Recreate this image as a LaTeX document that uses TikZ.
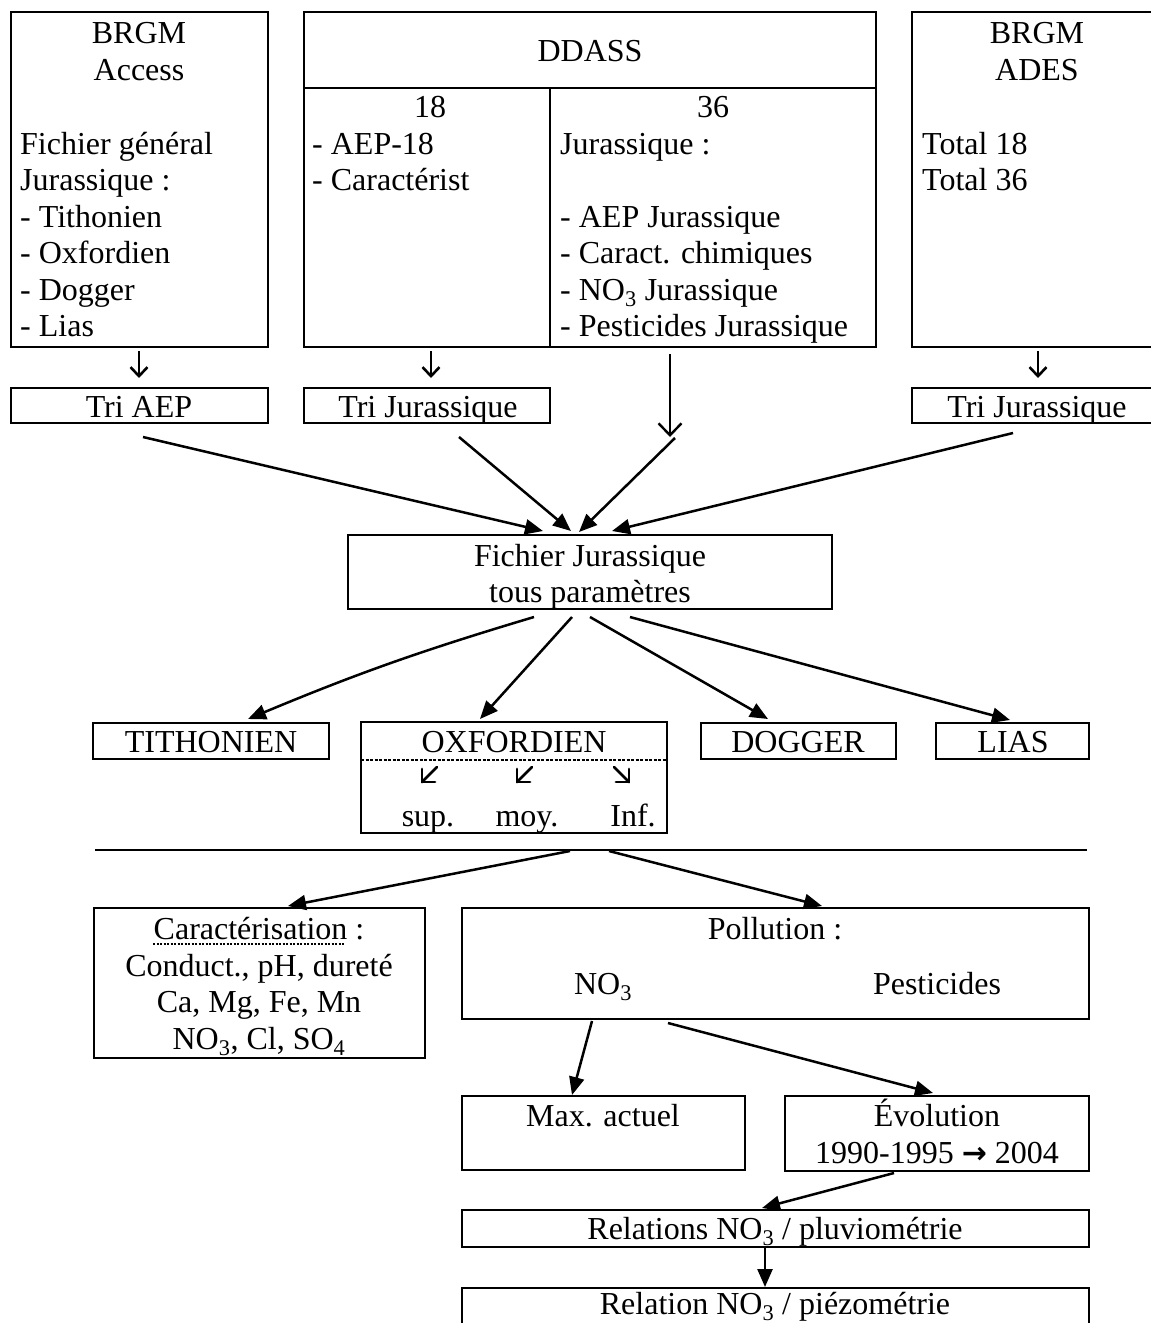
\documentclass[tikz,border=0pt]{standalone}
\usepackage{fontspec}
\setmainfont{Liberation Serif}
\newfontfamily\arrowfont{DejaVu Sans}
\usetikzlibrary{arrows.meta}
\begin{document}
\begin{tikzpicture}[x=1pt,y=-1pt,
  box/.style={draw, line width=1.8pt, inner sep=0pt, outer sep=0pt, anchor=north west},
  t/.style={inner sep=0pt, anchor=base, font=\fontsize{32}{36.7}\selectfont},
  tl/.style={t, anchor=base west},
  arr/.style={line width=2.5pt, -{Triangle[length=18pt,width=15pt]}},
  oarr/.style={line width=2.6pt, -{Straight Barb[length=9pt,width=17pt,line width=2.6pt]}},
  bigoarr/.style={line width=2.4pt, -{Straight Barb[length=12pt,width=23pt,line width=2.4pt]}},
  sep/.style={line width=1.8pt},
  small/.style={line width=2.8pt, line cap=round, line join=round},
]
\useasboundingbox (0,0) rectangle (1151,1323);
\clip (0,0) rectangle (1151,1323);

% ---------- top boxes ----------
\node[box, minimum width=257pt, minimum height=335pt] (bA) at (11,12) {};
\node[box, minimum width=572pt, minimum height=335pt] (bD) at (304,12) {};
\draw[sep] (304,88) -- (876,88);
\draw[sep] (550,88) -- (550,347);
\node[box, minimum width=260pt, minimum height=335pt] (bR) at (912,12) {};

\node[t] (a1) at (139,43) {BRGM};
\node[t] (a2) at (139,80) {Access};
\node[tl] (a3) at (20,154) {Fichier général};
\node[tl] (a4) at (20,190) {Jurassique :};
\node[tl] (a5) at (20,227) {- Tithonien};
\node[tl] (a6) at (20,263) {- Oxfordien};
\node[tl] (a7) at (20,300) {- Dogger};
\node[tl] (a8) at (20,336) {- Lias};

\node[t] (d0) at (590,61) {DDASS};
\node[t] (d1) at (430,117) {18};
\node[tl] (d2) at (312,154) {- AEP-18};
\node[tl] (d3) at (312,190) {- Caractérist};
\node[t] (d4) at (713,117) {36};
\node[tl] (d5) at (560,154) {Jurassique :};
\node[tl] (d6) at (560,227) {- AEP Jurassique};
\node[tl] (d7) at (560,263) {- Caract. chimiques};
\node[tl] (d8) at (560,300) {- NO\textsubscript{3} Jurassique};
\node[tl] (d9) at (560,336) {- Pesticides Jurassique};

\node[t] (r1) at (1037,43) {BRGM};
\node[t] (r2) at (1037,80) {ADES};
\node[tl] (r3) at (922,154) {Total 18};
\node[tl] (r4) at (922,190) {Total 36};

% ---------- tri boxes ----------
\node[box, minimum width=257pt, minimum height=35pt] (tA) at (11,388) {};
\node[box, minimum width=246pt, minimum height=35pt] (tD) at (304,388) {};
\node[box, minimum width=260pt, minimum height=35pt] (tR) at (912,388) {};
\node[t] (tAt) at (139,417) {Tri AEP};
\node[t] (tDt) at (428,417) {Tri Jurassique};
\node[t] (tRt) at (1037,417) {Tri Jurassique};

\coordinate (sA1) at (139,351); \coordinate (eA1) at (139,378);
\coordinate (sD1) at (431,351); \coordinate (eD1) at (431,378);
\coordinate (sR1) at (1038,351); \coordinate (eR1) at (1038,378);
\coordinate (sD2) at (670,354); \coordinate (eD2) at (670,437);
\draw[oarr] (sA1) -- (eA1);
\draw[oarr] (sD1) -- (eD1);
\draw[oarr] (sR1) -- (eR1);
\draw[bigoarr] (sD2) -- (eD2);

% ---------- Fichier Jurassique ----------
\node[box, minimum width=484pt, minimum height=74pt] (fj) at (348,535) {};
\node[t] (fj1) at (590,566) {Fichier Jurassique};
\node[t] (fj2) at (590,602) {tous paramètres};

\coordinate (c1s) at (143,437); \coordinate (c1e) at (543,531);
\coordinate (c2s) at (459,437); \coordinate (c2e) at (571,531);
\coordinate (c3s) at (675,438); \coordinate (c3e) at (579,532);
\coordinate (c4s) at (1013,433); \coordinate (c4e) at (612,531);
\draw[arr] (c1s) -- (c1e);
\draw[arr] (c2s) -- (c2e);
\draw[arr] (c3s) -- (c3e);
\draw[arr] (c4s) -- (c4e);

% ---------- stages ----------
\node[box, minimum width=236pt, minimum height=36pt] (ti) at (93,723) {};
\node[box, minimum width=306pt, minimum height=111pt] (ox) at (361,722) {};
\node[box, minimum width=195pt, minimum height=36pt] (dg) at (701,723) {};
\node[box, minimum width=153pt, minimum height=36pt] (li) at (936,723) {};
\node[t] (tit) at (211,752) {TITHONIEN};
\node[t] (oxt) at (514,752) {OXFORDIEN};
\node[t] (dgt) at (798,752) {DOGGER};
\node[t] (lit) at (1013,752) {LIAS};
\draw[line width=1.3pt, dash pattern=on 3pt off 1.5pt] (361,760) -- (667,760);
\node[t] (ox1) at (428,826) {sup.};
\node[t] (ox2) at (527,826) {moy.};
\node[t] (ox3) at (633,826) {Inf.};
% small glyph arrows
\draw[small] (422,769) -- (422,782) -- (435,782);
\draw[small] (422,782) -- (437,767);
\draw[small] (517,769) -- (517,782) -- (530,782);
\draw[small] (517,782) -- (532,767);
\draw[small] (629,769) -- (629,782) -- (616,782);
\draw[small] (629,782) -- (614,767);

\coordinate (d1s) at (534,617); \coordinate (d1e) at (248,719);
\coordinate (d2s) at (572,617); \coordinate (d2e) at (480,719);
\coordinate (d3s) at (590,617); \coordinate (d3e) at (768,719);
\coordinate (d4s) at (630,617); \coordinate (d4e) at (1010,720);
\draw[arr] (d1s) to[bend right=3] (d1e);
\draw[arr] (d2s) -- (d2e);
\draw[arr] (d3s) -- (d3e);
\draw[arr] (d4s) -- (d4e);

% ---------- separator ----------
\coordinate (hl1) at (95,850); \coordinate (hl2) at (1087,850);
\draw[sep] (hl1) -- (hl2);

% ---------- characterisation / pollution ----------
\node[box, minimum width=331pt, minimum height=150pt] (ca) at (94,908) {};
\node[box, minimum width=627pt, minimum height=111pt] (po) at (462,908) {};
\node[t] (ca1) at (259,939) {Caractérisation :};
\draw[line width=1.2pt, dash pattern=on 2pt off 1.5pt] (153,944) -- (345,944);
\node[t] (ca2) at (259,976) {Conduct., pH, dureté};
\node[t] (ca3) at (259,1012) {Ca, Mg, Fe, Mn};
\node[t] (ca4) at (259,1049) {NO\textsubscript{3}, Cl, SO\textsubscript{4}};
\node[t] (po1) at (775,939) {Pollution :};
\node[t] (po2) at (603,994) {NO\textsubscript{3}};
\node[t] (po3) at (937,994) {Pesticides};

\coordinate (e1s) at (570,851); \coordinate (e1e) at (288,906);
\coordinate (e2s) at (609,851); \coordinate (e2e) at (822,906);
\draw[arr] (e1s) -- (e1e);
\draw[arr] (e2s) -- (e2e);

% ---------- nitrate analysis ----------
\node[box, minimum width=283pt, minimum height=74pt] (mx) at (462,1096) {};
\node[box, minimum width=304pt, minimum height=75pt] (ev) at (785,1096) {};
\node[t] (mxt) at (603,1126) {Max. actuel};
\node[t] (ev1) at (937,1126) {Évolution};
\node[t] (ev2) at (937,1163) {1990-1995 {\arrowfont\bfseries\fontsize{30}{34}\selectfont →} 2004};
\node[box, minimum width=627pt, minimum height=37pt] (rp) at (462,1210) {};
\node[t] (rpt) at (775,1239) {Relations NO\textsubscript{3} / pluviométrie};
\node[box, minimum width=627pt, minimum height=60pt] (rz) at (462,1288) {};
\node[t] (rzt) at (775,1314) {Relation NO\textsubscript{3} / piézométrie};

\coordinate (f1s) at (592,1021); \coordinate (f1e) at (572,1095);
\coordinate (f2s) at (668,1023); \coordinate (f2e) at (933,1093);
\coordinate (gs) at (894,1173); \coordinate (ge) at (762,1208);
\coordinate (hs) at (765,1248); \coordinate (he) at (765,1287);
\draw[arr] (f1s) -- (f1e);
\draw[arr] (f2s) -- (f2e);
\draw[arr] (gs) -- (ge);
\draw[arr] (hs) -- (he);
\end{tikzpicture}
\end{document}
